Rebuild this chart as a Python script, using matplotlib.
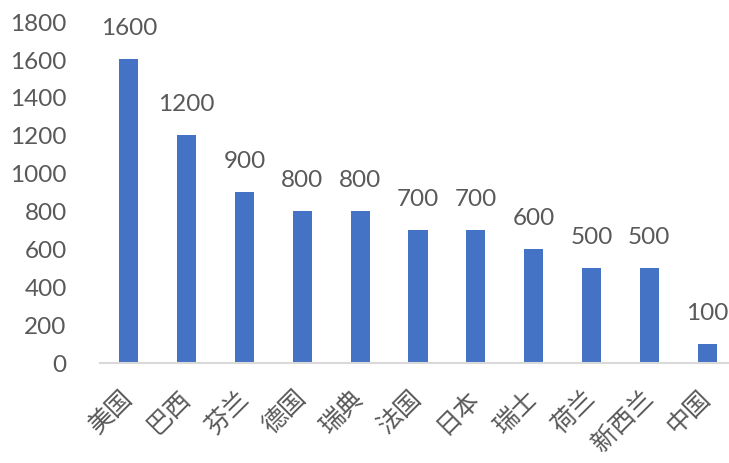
import matplotlib
matplotlib.use("Agg")
import matplotlib.pyplot as plt
from matplotlib.transforms import ScaledTranslation

countries = ["美国", "巴西", "芬兰", "德国", "瑞典", "法国", "日本", "瑞士", "荷兰", "新西兰", "中国"]
values = [1600, 1200, 900, 800, 800, 700, 700, 600, 500, 500, 100]
yticks = [0, 200, 400, 600, 800, 1000, 1200, 1400, 1600, 1800]

text_color = "#595959"
bar_color = "#4472C4"

fig = plt.figure(figsize=(7.29, 4.64), dpi=100)
ax = fig.add_axes([100 / 729, 100 / 464, 636 / 729, 342 / 464])

x = range(len(countries))
ax.bar(x, values, width=0.33, color=bar_color, zorder=2)

for xi, v in zip(x, values):
    ax.annotate(f"{v}", (xi, v), xytext=(0, 15), textcoords="offset points",
                ha="center", va="bottom", fontsize=17.5, color=text_color,
                family=["Lato", "DejaVu Sans"])

ax.set_xlim(-0.5, len(countries) - 0.5)
ax.set_ylim(0, 1800)
ax.set_yticks(yticks)
ax.set_yticklabels([str(t) for t in yticks], fontsize=17.5, color=text_color,
                   family=["Lato", "DejaVu Sans"])
ax.set_xticks(list(x))
ax.set_xticklabels(countries, rotation=45, ha="right", va="center",
                   rotation_mode="anchor", fontsize=18, color=text_color,
                   family=["Noto Sans CJK SC", "DejaVu Sans"], fontweight="light")
shift = ScaledTranslation(-4 / 100, 0, fig.dpi_scale_trans)
for lbl in ax.get_xticklabels():
    lbl.set_transform(lbl.get_transform() + shift)

for side in ["top", "right", "left"]:
    ax.spines[side].set_visible(False)
ax.spines["bottom"].set_color("#d9d9d9")
ax.spines["bottom"].set_linewidth(1.5)
ax.tick_params(axis="both", length=0)
ax.tick_params(axis="y", pad=24)
ax.tick_params(axis="x", pad=22)

fig.savefig("out.png", dpi=100)
